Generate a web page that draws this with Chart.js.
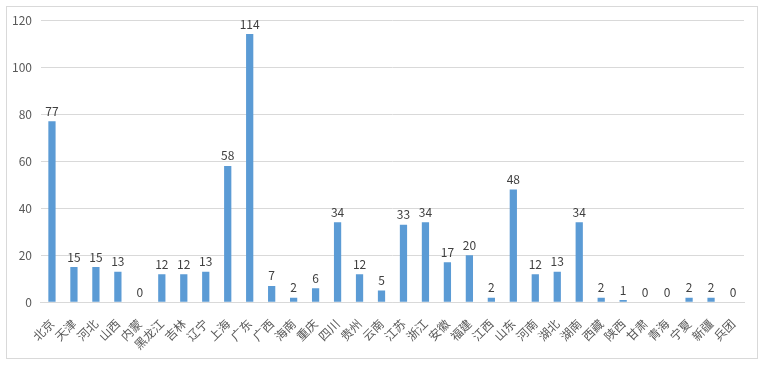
<!DOCTYPE html>
<html>
<head>
<meta charset="utf-8">
<script src="https://cdn.jsdelivr.net/npm/chart.js@4.4.0/dist/chart.umd.min.js"></script>
<style>
  html, body { margin: 0; padding: 0; background: #fff; }
  #wrap { position: absolute; left: 0; top: 0; width: 765px; height: 365px; }
  #frame { position: absolute; left: 6px; top: 6px; width: 750px; height: 351px; border: 1px solid #d9d9d9; }
</style>
</head>
<body>
<div id="wrap">
  <div id="frame"></div>
  <canvas id="chart" width="765" height="365"></canvas>
</div>
<script>
// provinces along the x axis
const regions = ["北京", "天津", "河北", "山西", "内蒙", "黑龙江", "吉林", "辽宁", "上海", "广东",
    "广西", "海南", "重庆", "四川", "贵州", "云南", "江苏", "浙江", "安徽", "福建",
    "江西", "山东", "河南", "湖北", "湖南", "西藏", "陕西", "甘肃", "青海", "宁夏",
    "新疆", "兵团"];
const counts = [77, 15, 15, 13, 0, 12, 12, 13, 58, 114,
    7, 2, 6, 34, 12, 5, 33, 34, 17, 20,
    2, 48, 12, 13, 34, 2, 1, 0, 0, 2,
    2, 0];
const yTicks = [0, 20, 40, 60, 80, 100, 120];

const font = "'Noto Sans CJK SC', 'Noto Sans', sans-serif";

// value labels on top of bars
const barValues = {
    id: "barValues",
    afterDatasetsDraw(chart) {
        const ctx = chart.ctx;
        const meta = chart.getDatasetMeta(0);
        ctx.save();
        ctx.font = "12px " + font;
        ctx.fillStyle = "#404040";
        ctx.textAlign = "center";
        ctx.textBaseline = "bottom";
        meta.data.forEach((bar, i) => {
            ctx.fillText(String(counts[i]), bar.x, bar.y - 4);
        });
        ctx.restore();
    },
};

new Chart(document.getElementById("chart"), {
    type: "bar",
    data: {
        labels: regions,
        datasets: [
            {
                data: counts,
                backgroundColor: "#5b9bd5",
                barPercentage: 0.66,
                categoryPercentage: 0.5,
            },
        ],
    },
    options: {
        responsive: false,
        animation: false,
        layout: {
            padding: { left: 3, right: 21, top: 20, bottom: 7 },
        },
        scales: {
            x: {
                grid: { display: false },
                border: { color: "#d9d9d9" },
                ticks: {
                    color: "#595959",
                    font: { family: font, size: 12 },
                    maxRotation: 45,
                    minRotation: 45,
                    autoSkip: false,
                    padding: 6,
                },
            },
            y: {
                min: 0,
                max: 120,
                afterBuildTicks(axis) {
                    axis.ticks = yTicks.map((v) => ({ value: v }));
                },
                grid: { color: "#d9d9d9", drawTicks: false },
                border: { display: false },
                ticks: {
                    color: "#595959",
                    font: { family: font, size: 12 },
                    padding: 9,
                },
            },
        },
        plugins: {
            legend: { display: false },
            tooltip: { enabled: false },
        },
    },
    plugins: [barValues],
});
</script>
</body>
</html>
